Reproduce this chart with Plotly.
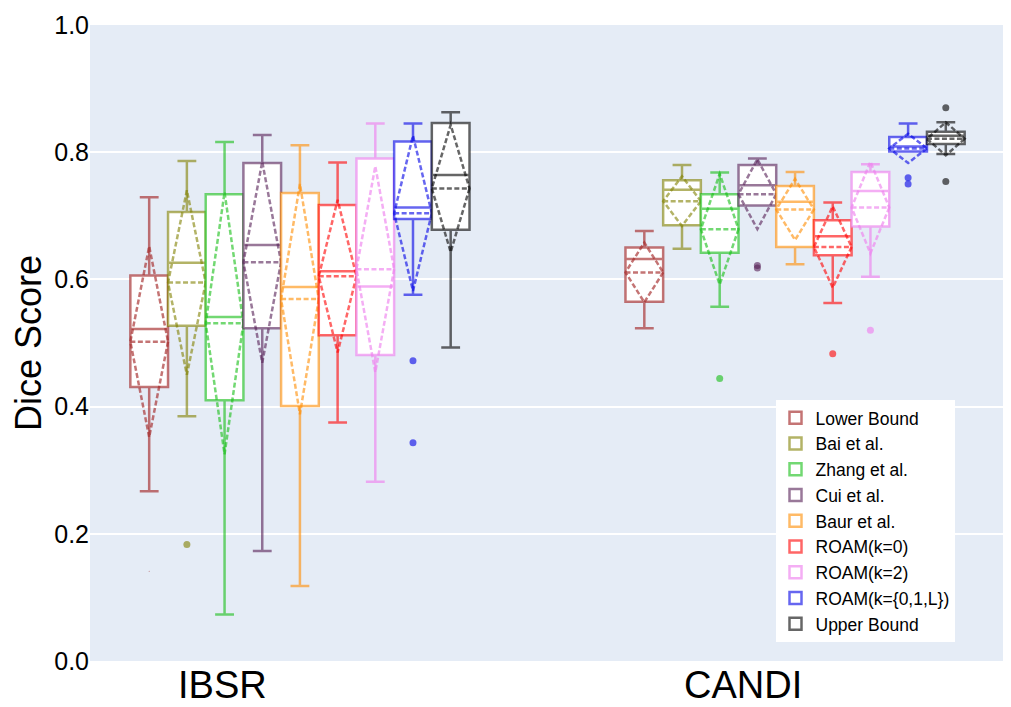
import plotly.graph_objects as go

datasets = ['IBSR', 'CANDI']
methods = ['Lower Bound', 'Bai et al.', 'Zhang et al.', 'Cui et al.', 'Baur et al.',
           'ROAM(k=0)', 'ROAM(k=2)', 'ROAM(k={0,1,L})', 'Upper Bound']

# per method: [IBSR, CANDI]
q1 = [[0.431, 0.565], [0.527, 0.685], [0.410, 0.642], [0.523, 0.716], [0.401, 0.651],
      [0.512, 0.638], [0.481, 0.683], [0.695, 0.801], [0.678, 0.813]]
median = [[0.522, 0.632], [0.626, 0.741], [0.541, 0.711], [0.654, 0.748], [0.588, 0.722],
          [0.613, 0.668], [0.589, 0.739], [0.713, 0.809], [0.764, 0.826]]
q3 = [[0.606, 0.650], [0.706, 0.756], [0.734, 0.734], [0.783, 0.780], [0.736, 0.747],
      [0.717, 0.693], [0.790, 0.769], [0.817, 0.824], [0.846, 0.832]]
lowerfence = [[0.267, 0.523], [0.385, 0.648], [0.073, 0.557], [0.173, 0.716], [0.118, 0.624],
              [0.375, 0.563], [0.282, 0.604], [0.576, 0.801], [0.493, 0.797]]
upperfence = [[0.729, 0.676], [0.786, 0.780], [0.816, 0.768], [0.827, 0.790], [0.811, 0.769],
              [0.784, 0.721], [0.845, 0.781], [0.845, 0.845], [0.863, 0.847]]
mean = [[0.502, 0.611], [0.595, 0.723], [0.531, 0.679], [0.627, 0.734], [0.569, 0.710],
        [0.605, 0.651], [0.616, 0.713], [0.704, 0.806], [0.743, 0.821]]
sd = [[0.150, 0.047], [0.145, 0.039], [0.206, 0.087], [0.158, 0.055], [0.181, 0.048],
      [0.120, 0.064], [0.162, 0.072], [0.122, 0.023], [0.100, 0.026]]
outliers = [[[0.141], []], [[0.183], []], [[], [0.444]], [[], [0.622, 0.618]], [[], []],
            [[], [0.483]], [[], [0.520]], [[0.472, 0.343], [0.760, 0.750]], [[], [0.870, 0.754]]]

colors = ['rgba(165,42,42,0.65)', 'rgba(128,128,0,0.6)', 'rgba(20,190,20,0.6)',
          'rgba(85,30,85,0.6)', 'rgba(255,140,0,0.6)', 'rgba(255,0,0,0.6)',
          'rgba(238,130,238,0.65)', 'rgba(0,0,230,0.6)', 'rgba(0,0,0,0.6)']
marker_sizes = [1, 7, 7, 7, 7, 7, 7, 7, 7]

font = 'Arial, Liberation Sans, sans-serif'

fig = go.Figure()
for i, name in enumerate(methods):
    # the median goes in with each sample so no sample list is empty;
    # only values beyond the fences are drawn as points
    samples = [[median[i][j]] + outliers[i][j] for j in range(len(datasets))]
    fig.add_trace(go.Box(
        name=name,
        x=datasets,
        y=samples,
        q1=q1[i], median=median[i], q3=q3[i],
        lowerfence=lowerfence[i], upperfence=upperfence[i],
        mean=mean[i], sd=sd[i],
        boxmean='sd',
        boxpoints='outliers',
        jitter=0, pointpos=0,
        fillcolor='white',
        line=dict(color=colors[i], width=2.5),
        marker=dict(color=colors[i], size=marker_sizes[i]),
    ))

label_shift = [-77, -52]
for j, d in enumerate(datasets):
    fig.add_annotation(x=d, xref='x', y=0, yref='paper', yanchor='top', xanchor='center',
                       yshift=-1, xshift=label_shift[j], text=d, showarrow=False,
                       font=dict(family=font, size=38, color='black'))

fig.update_layout(
    width=1011, height=707,
    template='plotly',
    boxmode='group', boxgap=0.315, boxgroupgap=0,
    margin=dict(l=82, r=15, t=17, b=54),
    font=dict(family=font, color='black'),
    paper_bgcolor='white',
    plot_bgcolor='#E5ECF6',
    legend=dict(x=0.75, y=0.03, xanchor='left', yanchor='bottom', bgcolor='white',
                font=dict(family=font, size=17.5, color='black')),
    xaxis=dict(range=[-0.424, 1.422], showticklabels=False, showgrid=False, automargin=False),
    yaxis=dict(range=[0, 1.0], dtick=0.2, tickformat='.1f', gridcolor='white', gridwidth=2,
               zeroline=False, automargin=False, tickfont=dict(size=25, color='black'),
               title=dict(text='Dice Score', font=dict(size=36, color='black'), standoff=12)),
)

fig.write_html('out.html')
